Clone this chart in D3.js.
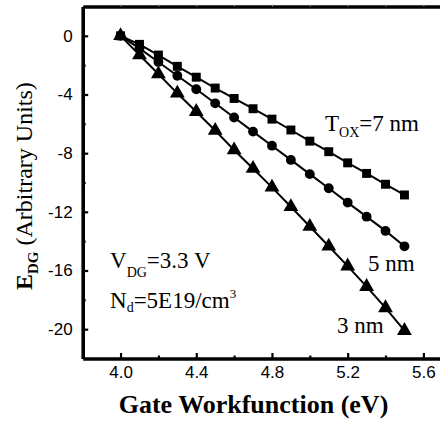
<!DOCTYPE html>
<html>
<head>
<meta charset="utf-8">
<script src="https://cdn.jsdelivr.net/npm/d3@7"></script>
<style>
  html, body { margin: 0; padding: 0; background: #fff; }
  svg { display: block; }
  .tick text { font-family: "Liberation Sans", Arial, sans-serif; font-size: 17px; fill: #000; }
  .serif { font-family: "Liberation Serif", "Times New Roman", serif; fill: #000; }
</style>
</head>
<body>
<svg id="chart" width="440" height="426"></svg>
<script>
// Gate workfunction (eV)
const workfunction = [4.0, 4.1, 4.2, 4.3, 4.4, 4.5, 4.6, 4.7, 4.8, 4.9, 5.0, 5.1, 5.2, 5.3, 5.4, 5.5];
// E_DG for each oxide thickness
const edgTox7 = [0, -0.58, -1.31, -2.08, -2.82, -3.56, -4.27, -4.97, -5.68, -6.42, -7.18, -7.90, -8.66, -9.38, -10.12, -10.85];
const edgTox5 = [0, -0.86, -1.78, -2.72, -3.64, -4.60, -5.57, -6.53, -7.49, -8.46, -9.43, -10.39, -11.37, -12.33, -13.30, -14.35];
const edgTox3 = [0, -1.31, -2.60, -3.92, -5.17, -6.45, -7.78, -9.05, -10.33, -11.65, -13.00, -14.35, -15.70, -17.10, -18.55, -20.10];
// Tick values
const xMajorTicks = [4.0, 4.4, 4.8, 5.2, 5.6];
const xMinorTicks = [4.2, 4.6, 5.0, 5.4];
const yMajorTicks = [0, -4, -8, -12, -16, -20];
const yMinorTicks = [-2, -6, -10, -14, -18];

const svg = d3.select("#chart");
const plotLeft = 82.7, plotRight = 442.3, plotTop = 6.5, plotBottom = 358.5;

const x = d3.scaleLinear().domain([3.8, 5.7]).range([plotLeft, plotRight]);
const y = d3.scaleLinear().domain([-22, 2]).range([plotBottom, plotTop]);

// Axes with inward ticks
const fmtX = d3.format(".1f");
const fmtY = d => String(d);
const gx = svg.append("g").attr("transform", `translate(0,${plotBottom})`)
  .call(d3.axisBottom(x).tickValues(xMajorTicks).tickFormat(fmtX).tickSize(-5.5).tickPadding(4).tickSizeOuter(0));
gx.selectAll(".tick line").attr("stroke-width", 2.2);
const gxMinor = svg.append("g").attr("transform", `translate(0,${plotBottom})`)
  .call(d3.axisBottom(x).tickValues(xMinorTicks).tickFormat("").tickSize(-3).tickSizeOuter(0));
gxMinor.select(".domain").remove();
gxMinor.selectAll(".tick line").attr("stroke-width", 2.2);

const gy = svg.append("g").attr("transform", `translate(${plotLeft},0)`)
  .call(d3.axisLeft(y).tickValues(yMajorTicks).tickFormat(fmtY).tickSize(-5.5).tickPadding(10).tickSizeOuter(0));
gy.selectAll(".tick line").attr("stroke-width", 2.2);
const gyMinor = svg.append("g").attr("transform", `translate(${plotLeft},0)`)
  .call(d3.axisLeft(y).tickValues(yMinorTicks).tickFormat("").tickSize(-3).tickSizeOuter(0));
gyMinor.select(".domain").remove();
gyMinor.selectAll(".tick line").attr("stroke-width", 2.2);

// Top frame with small outward ticks
const gTop = svg.append("g").attr("transform", `translate(0,${plotTop})`)
  .call(d3.axisTop(x).tickValues(xMajorTicks.concat(xMinorTicks)).tickFormat("").tickSize(2).tickSizeOuter(0));
gTop.selectAll(".tick line").attr("stroke", "#999").attr("stroke-width", 1);

svg.selectAll(".domain").attr("stroke", "#000").attr("stroke-width", 3.6);
gx.selectAll(".tick text").attr("dy", "0.9em");

// Series
const series = [
  { values: edgTox7, symbol: d3.symbolSquare, size: 80 },
  { values: edgTox5, symbol: d3.symbolCircle, size: 76 },
  { values: edgTox3, symbol: d3.symbolTriangle, size: 95 }
];
const line = d3.line().x(d => x(d[0])).y(d => y(d[1]));

series.forEach(s => {
  const pts = workfunction.map((w, i) => [w, s.values[i]]);
  svg.append("path").datum(pts).attr("d", line)
    .attr("fill", "none").attr("stroke", "#000").attr("stroke-width", 2);
  svg.append("g").selectAll("path").data(pts).join("path")
    .attr("transform", d => `translate(${x(d[0])},${y(d[1])})`)
    .attr("d", d3.symbol().type(s.symbol).size(s.size))
    .attr("fill", "#000");
});

// Curve labels and conditions
function label(xp, yp, parts) {
  const t = svg.append("text").attr("class", "serif").attr("x", xp).attr("y", yp).attr("font-size", 23);
  parts.forEach(p => {
    const ts = t.append("tspan").text(p.t);
    if (p.size) ts.attr("font-size", p.size);
    if (p.dy) ts.attr("dy", p.dy);
  });
  return t;
}
label(325, 131, [{ t: "T" }, { t: "OX", size: 14, dy: 6 }, { t: "=7 nm", dy: -6 }]);
label(368, 271, [{ t: "5 nm" }]);
label(337, 333, [{ t: "3 nm" }]);
label(110, 268, [{ t: "V" }, { t: "DG", size: 14, dy: 9 }, { t: "=3.3 V", dy: -9 }]);
label(110, 308, [{ t: "N" }, { t: "d", size: 14, dy: 4 }, { t: "=5E19/cm", dy: -4 }, { t: "3", size: 13, dy: -10 }]);

// Axis titles
svg.append("text").attr("class", "serif")
  .attr("x", 253.5).attr("y", 413)
  .attr("text-anchor", "middle").attr("font-size", 26).attr("font-weight", "bold")
  .text("Gate Workfunction (eV)");

const yt = svg.append("text").attr("class", "serif")
  .attr("transform", "translate(32,290) rotate(-90)")
  .attr("font-size", 24);
yt.append("tspan").attr("font-weight", "bold").text("E");
yt.append("tspan").attr("font-weight", "bold").attr("font-size", 15).attr("dy", 6).text("DG");
yt.append("tspan").attr("dy", -6).text(" (Arbitrary Units)");
</script>
</body>
</html>
